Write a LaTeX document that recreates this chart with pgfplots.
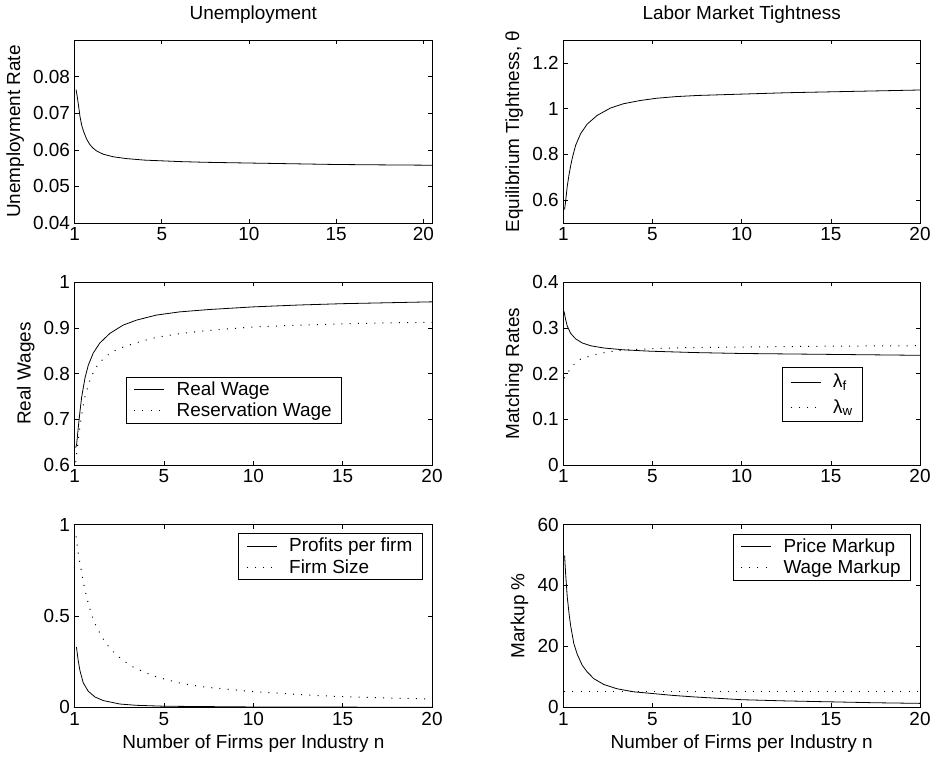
\documentclass[border=0pt]{standalone}
\usepackage{fontspec}
\setmainfont{Liberation Sans}
\usepackage{pgfplots}
\pgfplotsset{compat=1.18}
\newcommand{\fs}{\fontsize{14.2}{17}\selectfont}
\pgfplotsset{
  mystyle/.style={
    scale only axis,
    height=137.1pt,
    axis line style={line width=0.6pt, black},
    tick align=inside,
    major tick length=3.2pt,
    tick style={line width=0.5pt, black},
    scaled y ticks=false, scaled x ticks=false,
    xmin=0, xmax=20,
    xtick={0,5,10,15,20},
    xticklabels={1,5,10,15,20},
    tick label style={font=\fs},
    label style={font=\fs},
    title style={font=\fs, yshift=3pt},
    legend style={font=\fs, draw=black, line width=0.6pt, fill=white,
      inner xsep=5.5pt, inner ysep=1.5pt,
      /tikz/every odd column/.append style={column sep=7pt}},
    legend cell align=left,
    legend image code/.code={\draw[##1] (0pt,0pt) -- (22.5pt,0pt);},
  },
  sol/.style={black, line width=0.6pt},
  dot/.style={black, line width=0.75pt, dash pattern=on 0.75pt off 5.4pt},
}
\begin{document}
\begin{tikzpicture}
\path[use as bounding box] (0,0) rectangle (701.25pt,571.5pt);

% Top-left
\begin{axis}[mystyle, at={(56pt,404.25pt)}, anchor=south west, width=268pt,
  xmax=20.5, ymin=0.04, ymax=0.09,
  ytick={0.04,0.05,0.06,0.07,0.08},
  yticklabels={0.04,0.05,0.06,0.07,0.08},
  title={Unemployment}, ylabel={Unemployment Rate}]
\addplot[sol] coordinates {(0.08,0.0765) (0.15,0.0745) (0.21,0.0725) (0.31,0.0690) (0.4,0.0668) (0.5,0.0652) (0.69,0.0629) (0.88,0.0614) (1.05,0.0605) (1.26,0.0597) (1.65,0.0588) (2.22,0.0581) (3,0.0576) (4,0.0572) (5,0.0570) (6,0.0568) (7.5,0.0566) (10,0.0564) (12.5,0.0562) (15,0.0560) (17.5,0.0559) (20.5,0.0558)};
\end{axis}

% Top-right
\begin{axis}[mystyle, at={(422.5pt,404.25pt)}, anchor=south west, width=267.5pt,
  ymin=0.5, ymax=1.3,
  ytick={0.6,0.8,1,1.2}, yticklabels={0.6,0.8,1,1.2},
  title={Labor Market Tightness}, ylabel={Equilibrium Tightness, θ}]
\addplot[sol] coordinates {(0.07,0.559) (0.13,0.596) (0.22,0.661) (0.32,0.712) (0.41,0.750) (0.5,0.784) (0.69,0.840) (0.97,0.891) (1.34,0.933) (1.9,0.971) (2.64,1.003) (3.38,1.022) (4.31,1.036) (5.24,1.046) (6.3,1.053) (7.5,1.058) (10,1.064) (12.5,1.070) (15,1.074) (17.5,1.078) (20,1.082)};
\end{axis}

% Middle-left
\begin{axis}[mystyle, at={(56pt,222.75pt)}, anchor=south west, width=268pt,
  ymin=0.6, ymax=1,
  ytick={0.6,0.7,0.8,0.9,1}, yticklabels={0.6,0.7,0.8,0.9,1},
  ylabel={Real Wages},
  legend style={at={(0.1436,0.483)}, anchor=north west}]
\addplot[sol] coordinates {(0.06,0.638) (0.11,0.645) (0.2,0.681) (0.3,0.718) (0.39,0.748) (0.58,0.791) (0.76,0.818) (1.04,0.845) (1.41,0.867) (1.97,0.888) (2.71,0.906) (3.46,0.917) (4.57,0.928) (5.87,0.935) (7.45,0.940) (10,0.946) (12.5,0.950) (15,0.953) (17.5,0.955) (20,0.957)};
\addlegendentry{Real Wage}
\addplot[dot] coordinates {(0.06,0.606) (0.2,0.655) (0.3,0.685) (0.4,0.712) (0.58,0.750) (0.8,0.780) (1.05,0.803) (1.3,0.820) (1.65,0.834) (2.0,0.845) (2.43,0.854) (3.33,0.866) (4.2,0.876) (5.13,0.883) (6.02,0.888) (7.36,0.894) (10,0.902) (12.5,0.906) (15,0.909) (17.5,0.911) (20,0.912)};
\addlegendentry{Reservation Wage}
\end{axis}

% Middle-right
\begin{axis}[mystyle, at={(422.5pt,222.75pt)}, anchor=south west, width=267.5pt,
  ymin=0, ymax=0.4,
  ytick={0,0.1,0.2,0.3,0.4}, yticklabels={0,0.1,0.2,0.3,0.4},
  ylabel={Matching Rates},
  legend style={at={(0.614,0.535)}, anchor=north west, row sep=3pt, inner ysep=3pt}]
\addplot[sol] coordinates {(0.04,0.336) (0.13,0.318) (0.22,0.304) (0.41,0.288) (0.69,0.276) (1.06,0.267) (1.52,0.261) (2.27,0.256) (3.38,0.252) (4.87,0.249) (7.38,0.246) (10,0.244) (12.5,0.243) (15,0.242) (17.5,0.241) (20,0.240)};
\addlegendentry{λ\textsubscript{f}}
\addplot[dot] coordinates {(0.04,0.190) (0.3,0.205) (0.6,0.220) (0.93,0.231) (1.38,0.237) (1.86,0.242) (2.32,0.246) (2.79,0.249) (3.29,0.251) (4.22,0.253) (5.15,0.255) (6.17,0.256) (7.1,0.257) (10,0.258) (15,0.260) (20,0.261)};
\addlegendentry{λ\textsubscript{w}}
\end{axis}

% Bottom-left
\begin{axis}[mystyle, at={(56pt,41pt)}, anchor=south west, width=268pt,
  ymin=0, ymax=1,
  ytick={0,0.5,1}, yticklabels={0,0.5,1},
  xlabel={Number of Firms per Industry n},
  legend style={at={(0.974,0.9525)}, anchor=north east}]
\addplot[sol] coordinates {(0.1,0.330) (0.2,0.254) (0.3,0.199) (0.48,0.134) (0.76,0.088) (1.13,0.057) (1.6,0.037) (2.53,0.018) (3.46,0.011) (5,0.006) (7.45,0.004) (10,0.002) (15,0.001) (20,0.0008)};
\addlegendentry{Profits per firm}
\addplot[dot] coordinates {(0.08,0.935) (0.15,0.879) (0.22,0.833) (0.3,0.787) (0.39,0.737) (0.46,0.698) (0.56,0.650) (0.67,0.603) (0.8,0.555) (0.95,0.508) (1.1,0.465) (1.32,0.423) (1.54,0.382) (1.82,0.342) (2.12,0.309) (2.47,0.276) (2.84,0.248) (3.25,0.222) (3.68,0.202) (4.11,0.184) (4.57,0.167) (5.04,0.154) (5.93,0.132) (6.9,0.116) (7.36,0.110) (10,0.086) (12.5,0.070) (15,0.058) (17.5,0.051) (20,0.046)};
\addlegendentry{Firm Size}
\end{axis}

% Bottom-right
\begin{axis}[mystyle, at={(422.5pt,41pt)}, anchor=south west, width=267.5pt,
  ymin=0, ymax=60,
  ytick={0,20,40,60}, yticklabels={0,20,40,60},
  xlabel={Number of Firms per Industry n}, ylabel={Markup \%},
  legend style={at={(0.975,0.949)}, anchor=north east}]
\addplot[sol] coordinates {(0.07,49.8) (0.13,43.8) (0.22,36.2) (0.32,30.8) (0.41,26.8) (0.59,20.9) (0.78,17.4) (1.06,13.8) (1.34,11.6) (1.71,9.4) (2.27,7.5) (3.01,6.1) (3.94,5.1) (5.06,4.5) (6.17,3.9) (7.38,3.4) (10,2.5) (12.5,2.1) (15,1.8) (17.5,1.5) (20,1.3)};
\addlegendentry{Price Markup}
\addplot[dot] coordinates {(0.05,5.1) (20,5.1)};
\addlegendentry{Wage Markup}
\end{axis}
\end{tikzpicture}
\end{document}
